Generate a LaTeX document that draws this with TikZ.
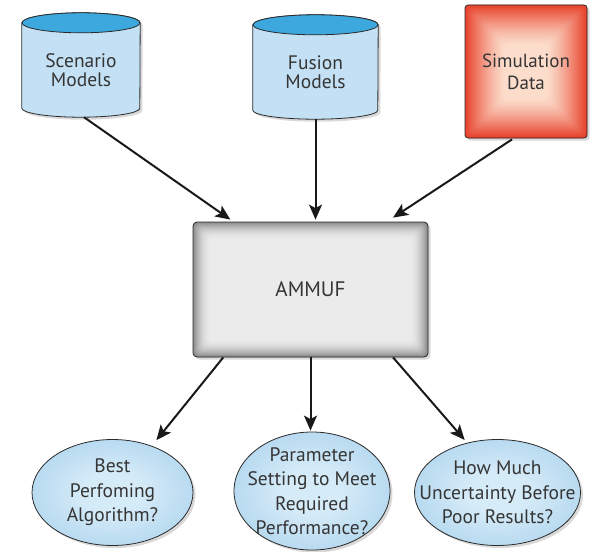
\documentclass[tikz,border=0pt]{standalone}
\usepackage{fontspec}
\setmainfont{PT Sans}
\usetikzlibrary{shadows,arrows.meta,calc,shapes.geometric}

\definecolor{txt}{HTML}{353535}
\definecolor{edge}{HTML}{2B2B2B}
\definecolor{dbbody}{HTML}{C3E0F4}
\definecolor{dbtop}{HTML}{3DA8DE}
\definecolor{qin}{HTML}{D6EBF8}
\definecolor{qout}{HTML}{B8DAF0}
\definecolor{redin}{HTML}{FCDCCB}
\definecolor{redout}{HTML}{E7412B}
\definecolor{grayin}{HTML}{EBEBEB}
\definecolor{grayout}{HTML}{8A8A8A}

\pgfdeclarelayer{background}
\pgfsetlayers{background,main}

\pgfdeclareradialshading{vigblue}{\pgfpoint{0bp}{0bp}}{%
  color(0bp)=(qin); color(9bp)=(qin); color(25bp)=(qout); color(50bp)=(qout)}

\tikzset{
  softshadow/.style={drop shadow={opacity=0.3, shadow xshift=2.5pt, shadow yshift=-2.5pt}},
  label text/.style={text=txt, align=center},
  % rectangular vignette: nested rounded boxes from rim colour to centre colour
  vignette/.style n args={4}{path picture={
    \foreach \i in {0,...,#3} {
      \pgfmathsetmacro\pct{100*(1-\i/#3)^#4}
      \fill[#1!\pct!#2, rounded corners=4pt]
        ($(path picture bounding box.north west)+(\i*1pt,-\i*1pt)$) rectangle
        ($(path picture bounding box.south east)+(-\i*1pt,\i*1pt)$);
    }}},
  dbnode/.style={rectangle, inner sep=0pt, label text,
    font=\fontsize{19.5}{18.5}\selectfont},
  datasrc/.style={rectangle, rounded corners=3pt, draw=edge, line width=0.8pt,
    minimum width=122pt, minimum height=133pt, fill=redout,
    vignette={redout}{redin}{40}{1.3}, label text,
    font=\fontsize{19}{22}\selectfont, softshadow},
  core/.style={rectangle, rounded corners=4pt, draw=edge, line width=0.8pt,
    minimum width=235pt, minimum height=135pt, fill=grayout,
    vignette={grayout}{grayin}{18}{2}, label text,
    font=\fontsize{21}{24}\selectfont, softshadow},
  % negative inner sep lets the minimum size alone fix the outline
  question/.style={ellipse, draw=edge, line width=0.8pt, inner sep=-40pt,
    shading=vigblue, label text, font=\fontsize{19.5}{24.5}\selectfont, softshadow},
  arr/.style={line width=2pt, draw=black!90,
    -{Stealth[length=15pt,width=13pt,inset=3.5pt]}},
}

\begin{document}
\begin{tikzpicture}[x=1pt,y=-1pt]
\useasboundingbox (0,0) rectangle (596,551);

% inputs (the node is the cylinder body, from the lid centre to the base)
\node[dbnode, minimum width=118pt, minimum height=94pt] (scen) at (81,70) {Scenario\\Models};
\node[dbnode, minimum width=125pt, minimum height=94pt] (fus) at (315.5,72) {Fusion\\Models};
\node[datasrc] (sim) at (526,71.5) {Simulation\\Data};

% cylinder outlines behind the labels
\begin{pgfonlayer}{background}
\foreach \dbn/\rx in {scen/59pt,fus/62.5pt} {
  \path[draw=edge, line width=0.8pt, fill=dbbody, softshadow]
    (\dbn.north west) -- ($(\dbn.south west)+(0,9pt)$)
    arc[start angle=180, end angle=360, x radius=\rx, y radius=9pt]
    -- (\dbn.north east)
    arc[start angle=0, end angle=180, x radius=\rx, y radius=10pt] -- cycle;
  \path[draw=edge, line width=0.8pt, fill=dbtop]
    (\dbn.north) ellipse[x radius=\rx, y radius=10pt];
}
\end{pgfonlayer}

% analysis framework
\node[core] (ammuf) at (310.5,289.5) {AMMUF};

% questions answered
\node[question, minimum width=161pt, minimum height=106pt] (best) at (112.5,492.5)
  {Best\\Perfoming\\Algorithm?};
\node[question, minimum width=156pt, minimum height=118pt] (param) at (312,491)
  {Parameter\\Setting to Meet\\Required\\Performance?};
\node[question, minimum width=166pt, minimum height=106pt] (unc) at (497.5,492.5)
  {How Much\\Uncertainty Before\\Poor Results?};

% inputs feed the framework
\draw[arr] ($(scen.south)+(3,0)$) -- ($(ammuf.north west)!0.16!(ammuf.north east)+(0,-2)$);
\draw[arr] (fus.south) -- ($(fus.south |- ammuf.north)+(0,-2)$);
\draw[arr] ($(sim.south)+(-14,1)$) -- ($(ammuf.north west)!0.85!(ammuf.north east)+(0,-4)$);

% framework answers the questions
\draw[arr] ($(ammuf.south west)!0.13!(ammuf.south east)$) -- ($(best.center)!1.12!(best.50)$);
\draw[arr] (ammuf.south) -- ($(ammuf.south |- param.north)+(0,-1)$);
\draw[arr] ($(ammuf.south west)!0.85!(ammuf.south east)$) -- ($(unc.center)!1.06!(unc.122)$);
\end{tikzpicture}
\end{document}
